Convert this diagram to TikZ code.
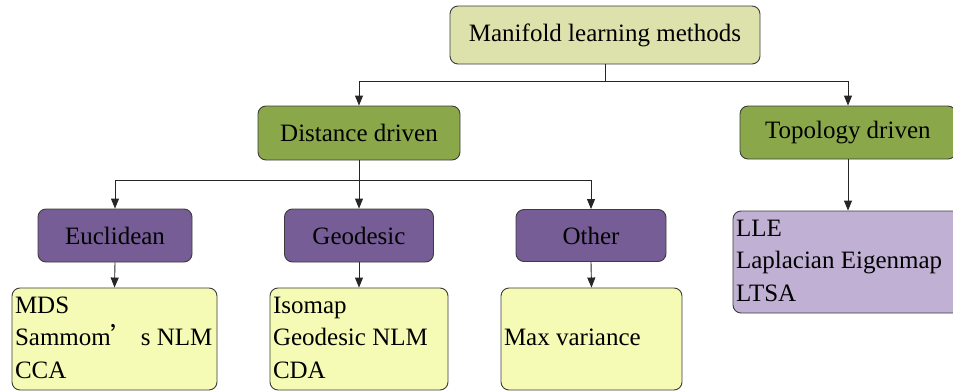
\documentclass[tikz,border=0pt]{standalone}
\usepackage{fontspec}
\setmainfont{Liberation Serif}
\newfontfamily\cjk{Noto Sans CJK SC}
\usetikzlibrary{arrows.meta}
\definecolor{topfill}{RGB}{221,226,172}
\definecolor{greenfill}{RGB}{138,168,74}
\definecolor{purplefill}{RGB}{118,93,150}
\definecolor{yellowfill}{RGB}{245,250,180}
\definecolor{lavfill}{RGB}{192,177,212}
\definecolor{edgegray}{RGB}{60,60,60}
\newcommand{\leaflines}[2]{\makebox[#1][l]{\begin{tabular}{@{}l@{}}#2\end{tabular}}}
\tikzset{
  box/.style={draw=edgegray, line width=0.9pt, rounded corners=8pt, rectangle, inner sep=0pt,
    font=\fontsize{25}{32.5}\selectfont, text=black},
  leaf/.style={box, inner xsep=3pt},
  conn/.style={draw=black!85, line width=0.9pt},
  arr/.style={conn, -{Triangle[length=10pt,width=8pt]}}
}
\begin{document}
\begin{tikzpicture}[x=1pt,y=-1pt]
\clip (0,0) rectangle (953,391);
\fill[white] (0,0) rectangle (953,391);
\node[box, fill=topfill, minimum width=310pt, minimum height=58pt] (top) at (605,35) {Manifold learning methods};
\node[box, fill=greenfill, minimum width=202pt, minimum height=54pt] (dist) at (359,133) {Distance driven};
\node[box, fill=greenfill, minimum width=216pt, minimum height=53pt] (topo) at (848,132.5) {\makebox[210pt][l]{\hspace{22pt}Topology driven}};
\node[box, fill=purplefill, minimum width=154pt, minimum height=53pt] (euc) at (115,235.5) {Euclidean};
\node[box, fill=purplefill, minimum width=149pt, minimum height=53pt] (geo) at (359,235.5) {Geodesic};
\node[box, fill=purplefill, minimum width=150pt, minimum height=52pt] (oth) at (591,235.5) {Other};
\node[leaf, fill=yellowfill, minimum width=205pt, minimum height=102pt] (mds) at (114.5,339) {\leaflines{199pt}{MDS\\Sammom\makebox[30pt][l]{\cjk ’}s NLM\\CCA}};
\node[leaf, fill=yellowfill, minimum width=178pt, minimum height=102pt] (iso) at (359,339) {\leaflines{172pt}{Isomap\\Geodesic NLM\\CDA}};
\node[leaf, fill=yellowfill, minimum width=181pt, minimum height=102pt] (maxv) at (591.5,339) {\leaflines{175pt}{Max variance}};
\node[leaf, fill=lavfill, minimum width=232pt, minimum height=102pt] (lle) at (849,262) {\leaflines{226pt}{LLE\\Laplacian Eigenmap\\LTSA}};
% connectors
\draw[conn] (top.south) -- ++(0,17) coordinate (j1);
\draw[arr] (j1) -| (dist.north);
\draw[arr] (j1) -| (topo.north);
\draw[conn] (dist.south) -- ++(0,20) coordinate (j2);
\draw[arr] (j2) -| (euc.north);
\draw[arr] (j2) -- (geo.north);
\draw[arr] (j2) -| (oth.north);
\draw[arr] (euc.south) -- (mds.north);
\draw[arr] (geo.south) -- (iso.north);
\draw[arr] (oth.south) -- (maxv.north);
\draw[arr] (topo.south) -- (topo.south |- lle.north);
\end{tikzpicture}
\end{document}
